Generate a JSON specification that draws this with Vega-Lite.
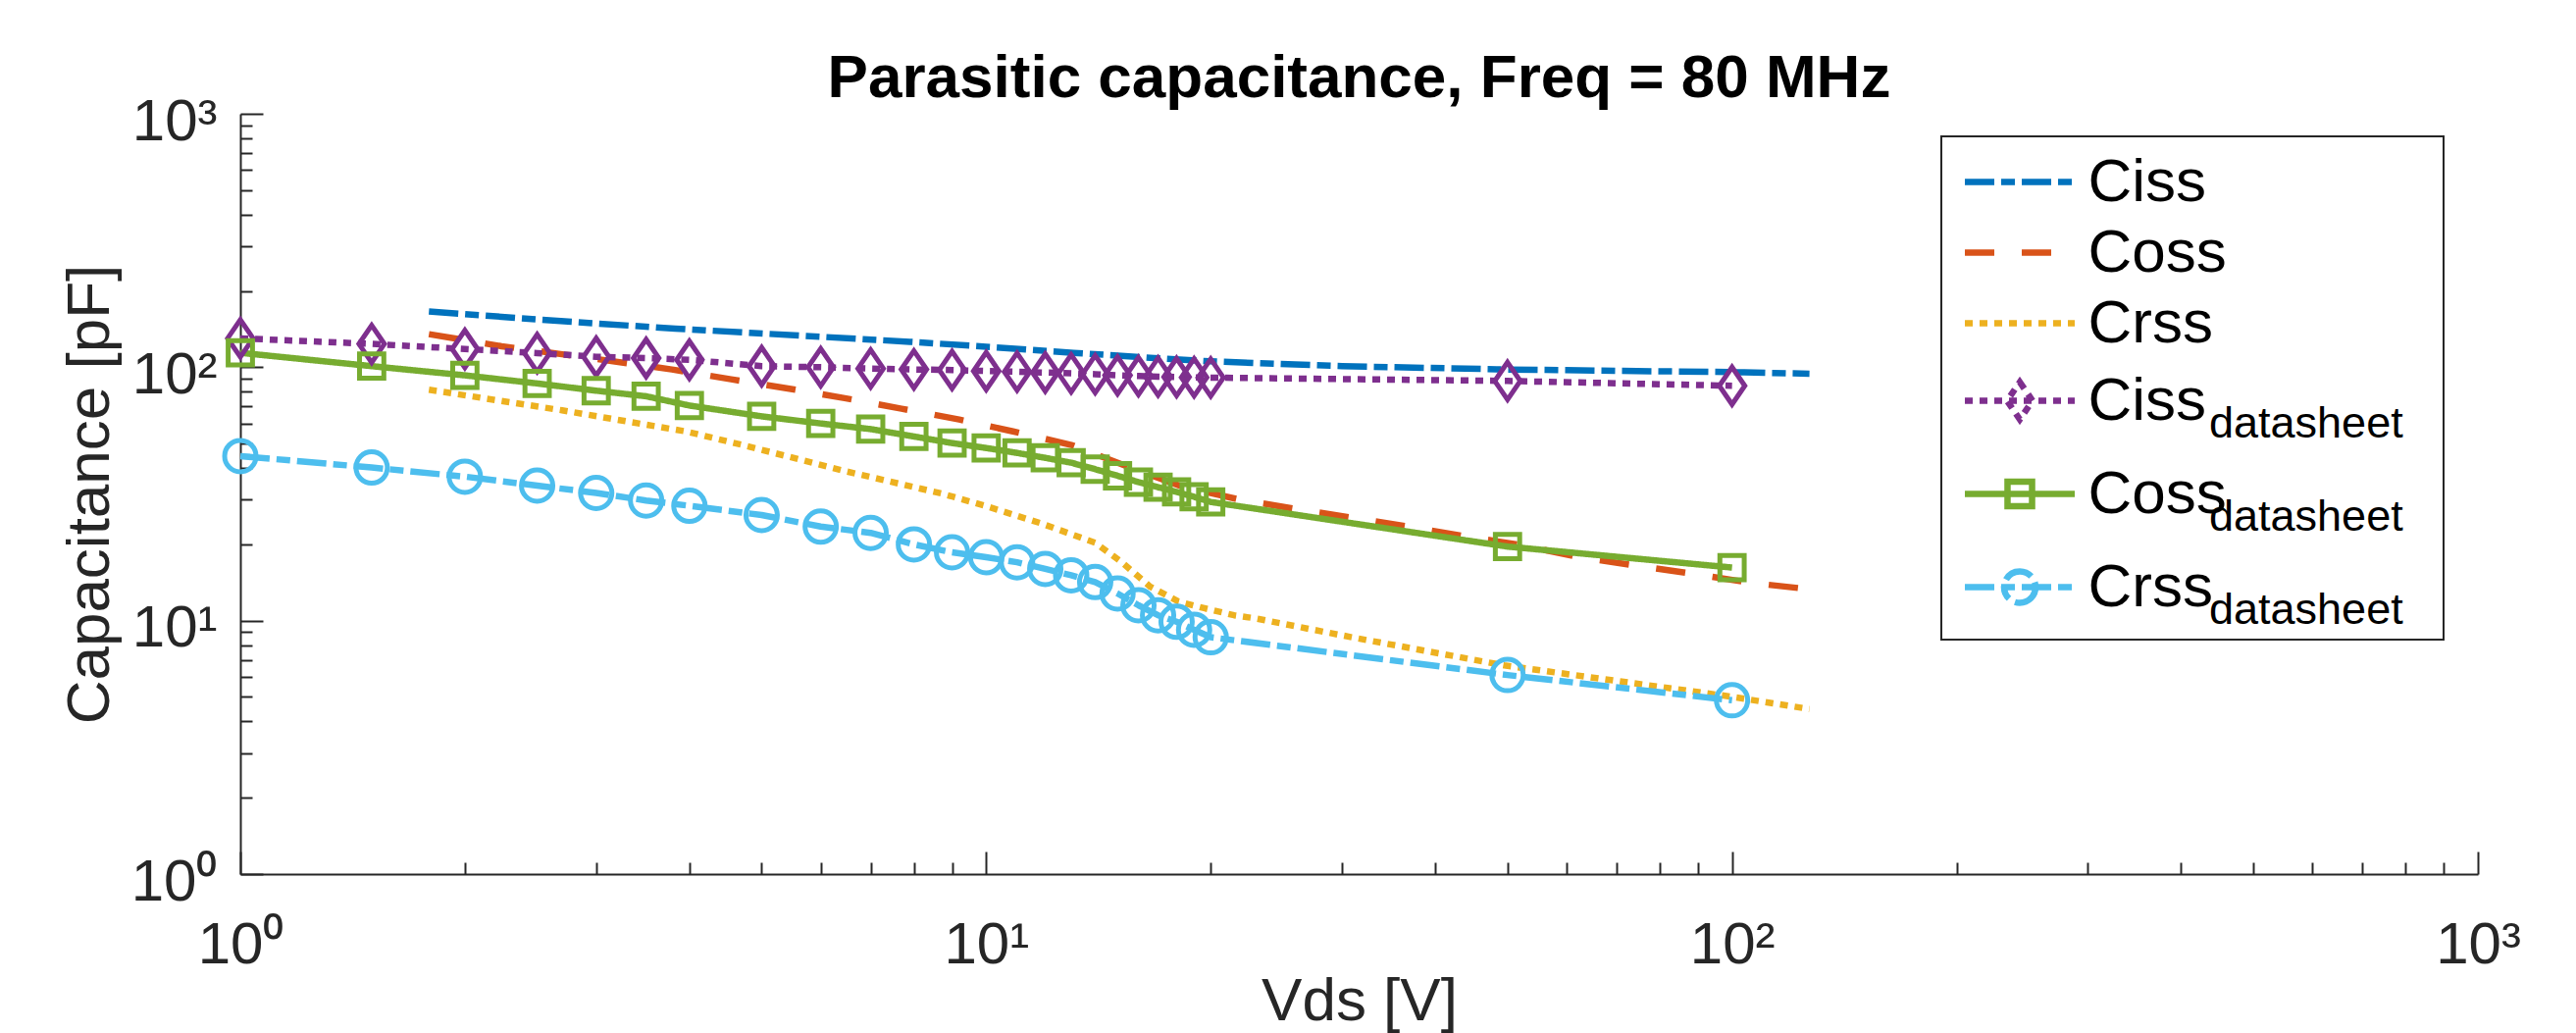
{
  "$schema": "https://vega.github.io/schema/vega-lite/v6.json",
  "width": 2281,
  "height": 775,
  "autosize": {"type": "none"},
  "padding": {"left": 245, "top": 116, "right": 100, "bottom": 162},
  "background": "#ffffff",
  "title": {"text": "Parasitic capacitance, Freq = 80 MHz", "font": "Liberation Sans", "fontSize": 62, "fontWeight": "bold", "color": "#000000", "anchor": "middle", "frame": "group", "baseline": "alphabetic", "offset": -67},
  "config": {
    "view": {"stroke": null},
    "font": "Liberation Sans",
    "legend": {"strokeWidth": 2},
    "axis": {"grid": false, "domainColor": "#262626", "domainWidth": 2, "tickColor": "#262626", "tickWidth": 2, "labelFont": "Liberation Sans", "labelFontSize": 60, "labelColor": "#262626", "titleFont": "Liberation Sans", "titleFontSize": 62, "titleFontWeight": "normal", "titleColor": "#262626", "labelOverlap": false, "labelFlush": false}
  },
  "data": {"values": [
    {"series": "Ciss", "vds": 1.79, "cap": 166}, {"series": "Ciss", "vds": 2.69, "cap": 152}, {"series": "Ciss", "vds": 3.83, "cap": 142}, {"series": "Ciss", "vds": 4.76, "cap": 137}, {"series": "Ciss", "vds": 7.9, "cap": 126}, {"series": "Ciss", "vds": 10, "cap": 120.5}, {"series": "Ciss", "vds": 13.1, "cap": 114}, {"series": "Ciss", "vds": 16.8, "cap": 108.7}, {"series": "Ciss", "vds": 20, "cap": 105.5}, {"series": "Ciss", "vds": 23, "cap": 103.8}, {"series": "Ciss", "vds": 30, "cap": 101}, {"series": "Ciss", "vds": 49.5, "cap": 98}, {"series": "Ciss", "vds": 70, "cap": 96.8}, {"series": "Ciss", "vds": 99.4, "cap": 95.7}, {"series": "Ciss", "vds": 127, "cap": 94.3},
    {"series": "Coss", "vds": 1.79, "cap": 135}, {"series": "Coss", "vds": 2.24, "cap": 121}, {"series": "Coss", "vds": 2.73, "cap": 112}, {"series": "Coss", "vds": 3.79, "cap": 98}, {"series": "Coss", "vds": 4.55, "cap": 89.6}, {"series": "Coss", "vds": 5.42, "cap": 82.5}, {"series": "Coss", "vds": 6.46, "cap": 75.5}, {"series": "Coss", "vds": 7.7, "cap": 68.6}, {"series": "Coss", "vds": 9.2, "cap": 62.2}, {"series": "Coss", "vds": 10.9, "cap": 55.7}, {"series": "Coss", "vds": 13.05, "cap": 49.2}, {"series": "Coss", "vds": 15.4, "cap": 40.8}, {"series": "Coss", "vds": 18.3, "cap": 33.8}, {"series": "Coss", "vds": 21.8, "cap": 30.1}, {"series": "Coss", "vds": 25.8, "cap": 27.7}, {"series": "Coss", "vds": 30.9, "cap": 25.5}, {"series": "Coss", "vds": 36.8, "cap": 23.5}, {"series": "Coss", "vds": 44, "cap": 21.5}, {"series": "Coss", "vds": 52.5, "cap": 19.8}, {"series": "Coss", "vds": 62.3, "cap": 17.8}, {"series": "Coss", "vds": 74.3, "cap": 16.5}, {"series": "Coss", "vds": 88.9, "cap": 15.3}, {"series": "Coss", "vds": 106, "cap": 14.1}, {"series": "Coss", "vds": 127, "cap": 13.3},
    {"series": "Crss", "vds": 1.79, "cap": 81.5}, {"series": "Crss", "vds": 2.7, "cap": 67.6}, {"series": "Crss", "vds": 3.97, "cap": 55.7}, {"series": "Crss", "vds": 4.76, "cap": 49}, {"series": "Crss", "vds": 6.45, "cap": 39}, {"series": "Crss", "vds": 8.73, "cap": 31.7}, {"series": "Crss", "vds": 10, "cap": 28.3}, {"series": "Crss", "vds": 11.8, "cap": 24.3}, {"series": "Crss", "vds": 14, "cap": 20.3}, {"series": "Crss", "vds": 15.2, "cap": 17}, {"series": "Crss", "vds": 16.6, "cap": 13.6}, {"series": "Crss", "vds": 18.1, "cap": 11.9}, {"series": "Crss", "vds": 19.6, "cap": 11.2}, {"series": "Crss", "vds": 21.5, "cap": 10.5}, {"series": "Crss", "vds": 23, "cap": 10.2}, {"series": "Crss", "vds": 31.1, "cap": 8.57}, {"series": "Crss", "vds": 49.5, "cap": 6.66}, {"series": "Crss", "vds": 99.4, "cap": 5.02}, {"series": "Crss", "vds": 127, "cap": 4.48},
    {"series": "Ciss_datasheet", "vds": 1, "cap": 130}, {"series": "Ciss_datasheet", "vds": 1.5, "cap": 123.6}, {"series": "Ciss_datasheet", "vds": 2, "cap": 118}, {"series": "Ciss_datasheet", "vds": 2.5, "cap": 113.7}, {"series": "Ciss_datasheet", "vds": 3, "cap": 110}, {"series": "Ciss_datasheet", "vds": 3.5, "cap": 108.7}, {"series": "Ciss_datasheet", "vds": 4, "cap": 107}, {"series": "Ciss_datasheet", "vds": 5, "cap": 101}, {"series": "Ciss_datasheet", "vds": 6, "cap": 100}, {"series": "Ciss_datasheet", "vds": 7, "cap": 98.8}, {"series": "Ciss_datasheet", "vds": 8, "cap": 98}, {"series": "Ciss_datasheet", "vds": 9, "cap": 97.5}, {"series": "Ciss_datasheet", "vds": 10, "cap": 96.6}, {"series": "Ciss_datasheet", "vds": 11, "cap": 96}, {"series": "Ciss_datasheet", "vds": 12, "cap": 95.3}, {"series": "Ciss_datasheet", "vds": 13, "cap": 94.6}, {"series": "Ciss_datasheet", "vds": 14, "cap": 93.9}, {"series": "Ciss_datasheet", "vds": 15, "cap": 92.9}, {"series": "Ciss_datasheet", "vds": 16, "cap": 92.3}, {"series": "Ciss_datasheet", "vds": 17, "cap": 91.8}, {"series": "Ciss_datasheet", "vds": 18, "cap": 91.5}, {"series": "Ciss_datasheet", "vds": 19, "cap": 91.2}, {"series": "Ciss_datasheet", "vds": 20, "cap": 91}, {"series": "Ciss_datasheet", "vds": 50, "cap": 88.3}, {"series": "Ciss_datasheet", "vds": 100, "cap": 84.5},
    {"series": "Coss_datasheet", "vds": 1, "cap": 114}, {"series": "Coss_datasheet", "vds": 1.5, "cap": 101}, {"series": "Coss_datasheet", "vds": 2, "cap": 92.9}, {"series": "Coss_datasheet", "vds": 2.5, "cap": 86.3}, {"series": "Coss_datasheet", "vds": 3, "cap": 80.8}, {"series": "Coss_datasheet", "vds": 3.5, "cap": 76.8}, {"series": "Coss_datasheet", "vds": 4, "cap": 70.6}, {"series": "Coss_datasheet", "vds": 5, "cap": 64}, {"series": "Coss_datasheet", "vds": 6, "cap": 60}, {"series": "Coss_datasheet", "vds": 7, "cap": 57}, {"series": "Coss_datasheet", "vds": 8, "cap": 53.3}, {"series": "Coss_datasheet", "vds": 9, "cap": 50.2}, {"series": "Coss_datasheet", "vds": 10, "cap": 48}, {"series": "Coss_datasheet", "vds": 11, "cap": 45.9}, {"series": "Coss_datasheet", "vds": 12, "cap": 43.9}, {"series": "Coss_datasheet", "vds": 13, "cap": 42}, {"series": "Coss_datasheet", "vds": 14, "cap": 39.6}, {"series": "Coss_datasheet", "vds": 15, "cap": 37.3}, {"series": "Coss_datasheet", "vds": 16, "cap": 35.2}, {"series": "Coss_datasheet", "vds": 17, "cap": 33.6}, {"series": "Coss_datasheet", "vds": 18, "cap": 32.2}, {"series": "Coss_datasheet", "vds": 19, "cap": 30.8}, {"series": "Coss_datasheet", "vds": 20, "cap": 29.4}, {"series": "Coss_datasheet", "vds": 50, "cap": 19.6}, {"series": "Coss_datasheet", "vds": 100, "cap": 16.2},
    {"series": "Crss_datasheet", "vds": 1, "cap": 44.6}, {"series": "Crss_datasheet", "vds": 1.5, "cap": 40.2}, {"series": "Crss_datasheet", "vds": 2, "cap": 37}, {"series": "Crss_datasheet", "vds": 2.5, "cap": 34.1}, {"series": "Crss_datasheet", "vds": 3, "cap": 31.9}, {"series": "Crss_datasheet", "vds": 3.5, "cap": 29.8}, {"series": "Crss_datasheet", "vds": 4, "cap": 28.4}, {"series": "Crss_datasheet", "vds": 5, "cap": 26.1}, {"series": "Crss_datasheet", "vds": 6, "cap": 23.5}, {"series": "Crss_datasheet", "vds": 7, "cap": 22.2}, {"series": "Crss_datasheet", "vds": 8, "cap": 20}, {"series": "Crss_datasheet", "vds": 9, "cap": 18.6}, {"series": "Crss_datasheet", "vds": 10, "cap": 17.8}, {"series": "Crss_datasheet", "vds": 11, "cap": 17}, {"series": "Crss_datasheet", "vds": 12, "cap": 16}, {"series": "Crss_datasheet", "vds": 13, "cap": 15.1}, {"series": "Crss_datasheet", "vds": 14, "cap": 14.2}, {"series": "Crss_datasheet", "vds": 15, "cap": 12.8}, {"series": "Crss_datasheet", "vds": 16, "cap": 11.5}, {"series": "Crss_datasheet", "vds": 17, "cap": 10.5}, {"series": "Crss_datasheet", "vds": 18, "cap": 9.9}, {"series": "Crss_datasheet", "vds": 19, "cap": 9.2}, {"series": "Crss_datasheet", "vds": 20, "cap": 8.6}, {"series": "Crss_datasheet", "vds": 50, "cap": 6.1}, {"series": "Crss_datasheet", "vds": 100, "cap": 4.85}
  ]},
  "encoding": {
    "x": {"field": "vds", "type": "quantitative", "scale": {"type": "log", "domain": [1, 1000], "nice": false},
      "axis": {"values": [1,2,3,4,5,6,7,8,9,10,20,30,40,50,60,70,80,90,100,200,300,400,500,600,700,800,900,1000],
        "labelExpr": "datum.value == 1 ? '10\u2070' : datum.value == 10 ? '10\u00b9' : datum.value == 100 ? '10\u00b2' : datum.value == 1000 ? '10\u00b3' : ''",
        "tickSize": {"condition": {"test": "datum.value == 1 || datum.value == 10 || datum.value == 100 || datum.value == 1000", "value": -23}, "value": -12},
        "labelPadding": 66, "title": "Vds [V]", "titleX": 1140.5, "titleY": 148, "titleBaseline": "alphabetic", "titleAlign": "center"}},
    "y": {"field": "cap", "type": "quantitative", "scale": {"type": "log", "domain": [1, 1000], "nice": false},
      "axis": {"values": [1,2,3,4,5,6,7,8,9,10,20,30,40,50,60,70,80,90,100,200,300,400,500,600,700,800,900,1000],
        "labelExpr": "datum.value == 1 ? '10\u2070' : datum.value == 10 ? '10\u00b9' : datum.value == 100 ? '10\u00b2' : datum.value == 1000 ? '10\u00b3' : ''",
        "tickSize": {"condition": {"test": "datum.value == 1 || datum.value == 10 || datum.value == 100 || datum.value == 1000", "value": -23}, "value": -12},
        "labelPadding": 47, "labelOffset": 8, "title": "Capacitance [pF]", "titleX": -135, "titleY": 387.5, "titleBaseline": "alphabetic", "titleAlign": "center", "titleAngle": 270}}
  },
  "layer": [
    {
      "mark": {"type": "line", "strokeWidth": 6.5, "strokeCap": "butt", "strokeJoin": "round"},
      "encoding": {
        "color": {"field": "series", "type": "nominal",
          "scale": {"domain": ["Ciss", "Coss", "Crss", "Ciss_datasheet", "Coss_datasheet", "Crss_datasheet"], "range": ["#0072BD", "#D95319", "#EDB120", "#7E2F8E", "#77AC30", "#4DBEEE"]},
          "legend": {"orient": "none", "legendX": 1734, "legendY": 23, "title": null, "padding": 6, "strokeColor": "#262626", "fillColor": "#ffffff", "cornerRadius": 0,
            "labelFont": "Liberation Sans", "labelFontSize": 62, "labelColor": "#000000", "labelOffset": 29, "symbolOffset": 33.5, "labelLimit": 0, "rowPadding": 0, "symbolStrokeWidth": 6.5, "symbolSize": 5550, "zindex": 2,
            "labelExpr": "slice(datum.label, 0, 4) + '\u00a0\u00a0\u2800\u2800\u2800\u2800'",
            "encode": {"symbols": {"update": {
              "shape": {"signal": "datum.value == 'Ciss_datasheet' ? 'M0,-0.913M0,0.913M-1.503,0H1.503M0,-0.51L0.349,0L0,0.51L-0.349,0Z' : datum.value == 'Coss_datasheet' ? 'M0,-0.913M0,0.913M-1.503,0H1.503M-0.336,-0.336H0.336V0.336H-0.336Z' : datum.value == 'Crss_datasheet' ? 'M0,-0.913M0,0.913M-1.503,0H1.503M0.43,0A0.43,0.43,0,1,1,-0.43,0A0.43,0.43,0,1,1,0.43,0Z' : 'M-1.503,0H1.503'"},
              "fill": {"value": "transparent"}
            }}}
          }},
        "strokeDash": {"field": "series", "type": "nominal",
          "scale": {"domain": ["Ciss", "Coss", "Crss", "Ciss_datasheet", "Coss_datasheet", "Crss_datasheet"], "range": [[30, 7, 14, 7], [30, 28], [8, 7], [8, 7], [1, 0], [30, 7, 14, 7]]},
          "legend": {"title": null}}
      }
    },
    {
      "transform": [{"filter": {"field": "series", "oneOf": ["Ciss_datasheet", "Coss_datasheet", "Crss_datasheet"]}}],
      "mark": {"type": "point", "filled": false, "strokeWidth": 5, "size": 1600, "opacity": 1},
      "encoding": {
        "color": {"field": "series", "type": "nominal", "legend": null},
        "shape": {"field": "series", "type": "nominal",
          "scale": {"domain": ["Ciss_datasheet", "Coss_datasheet", "Crss_datasheet"], "range": ["M0,-1M0,1M0,-0.95L0.65,0L0,0.95L-0.65,0Z", "M0,-1M0,1M-0.62,-0.62H0.62V0.62H-0.62Z", "M0,-1M0,1M0.8,0A0.8,0.8,0,1,1,-0.8,0A0.8,0.8,0,1,1,0.8,0Z"]},
          "legend": {"orient": "none", "legendX": 1912, "legendY": 282, "title": null, "padding": 0, "strokeColor": null, "fillColor": null, "labelExpr": "'datasheet'", "labelFont": "Liberation Sans", "labelFontSize": 45, "labelColor": "#000000", "labelOffset": 0, "labelBaseline": "alphabetic", "labelLimit": 0, "rowPadding": 0, "symbolSize": 9025, "symbolOpacity": 0, "symbolStrokeWidth": 0, "zindex": 3,
            "encode": {"symbols": {"update": {"opacity": {"value": 0}, "strokeWidth": {"value": 0}, "fill": {"value": "transparent"}}}, "labels": {"update": {"dx": {"signal": "datum.value == 'Coss_datasheet' ? 21 : datum.value == 'Crss_datasheet' ? 7 : 0"}}}}}}
      }
    }
  ]
}
